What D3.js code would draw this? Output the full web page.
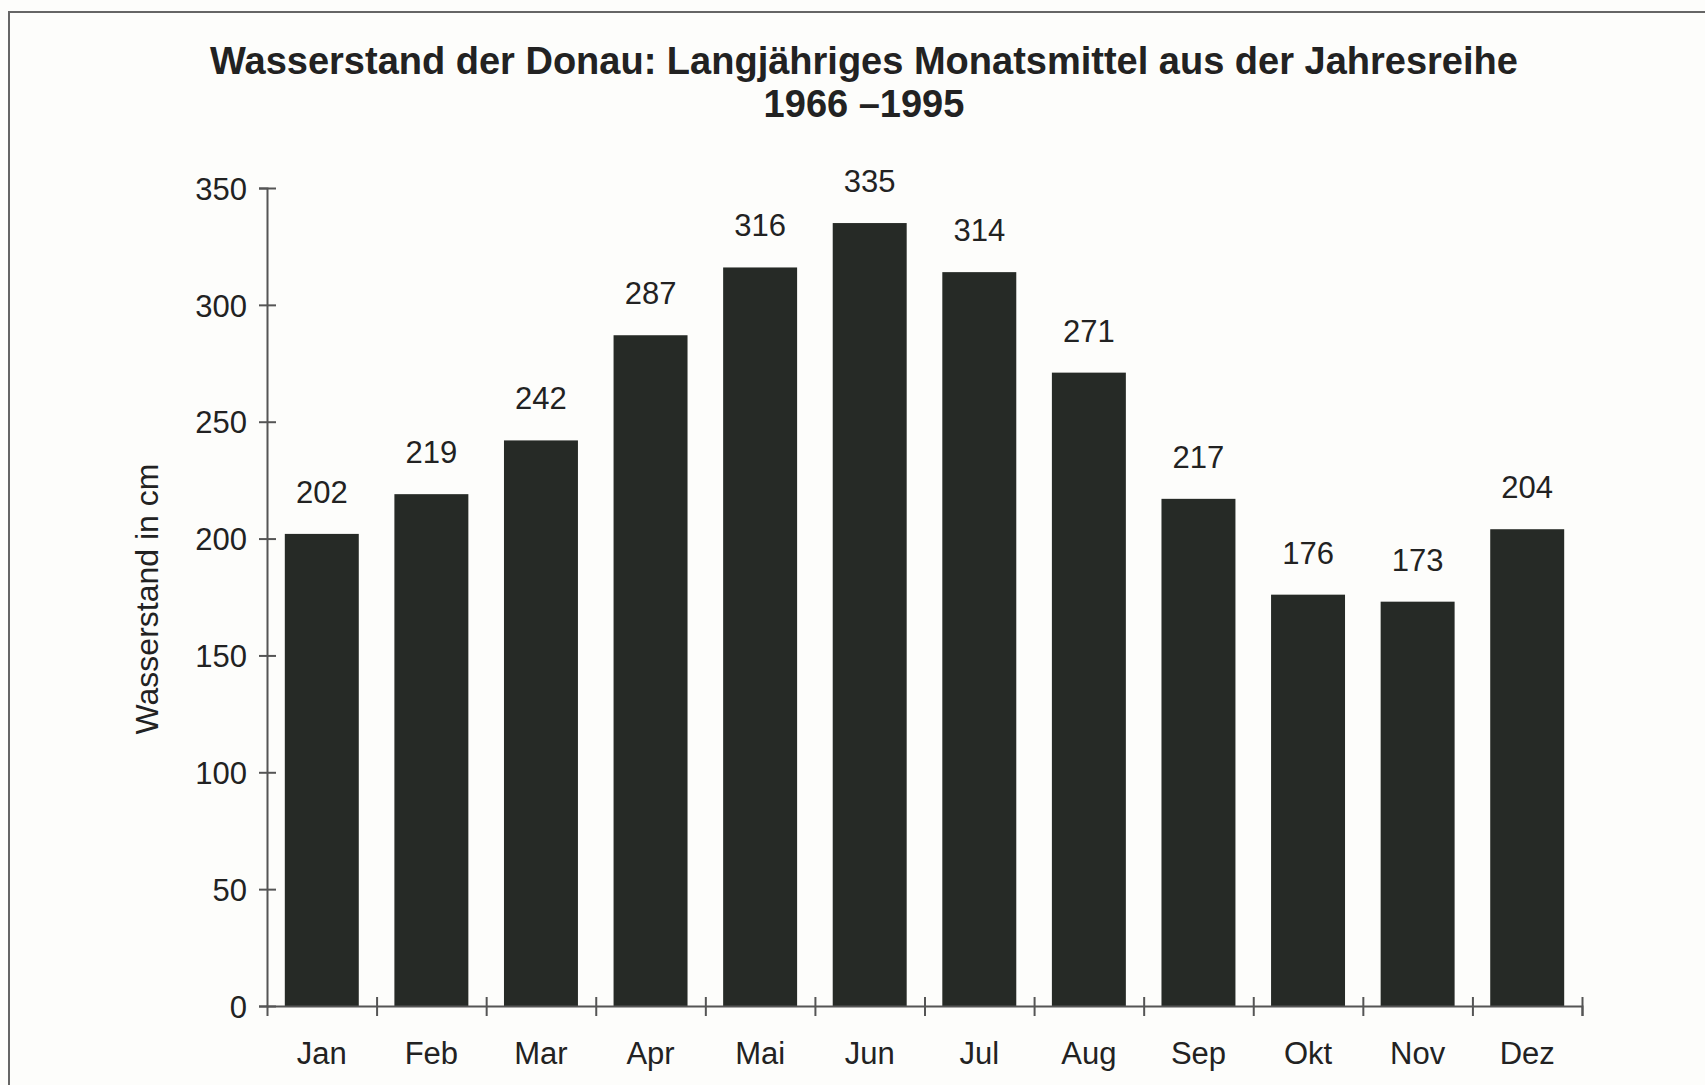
<!DOCTYPE html>
<html>
<head>
<meta charset="utf-8">
<script src="https://cdn.jsdelivr.net/npm/d3@7"></script>
<style>
  html, body { margin: 0; padding: 0; background: #fdfdfb; }
  svg { display: block; }
  text { font-family: "Liberation Sans", Arial, sans-serif; fill: #222; }
</style>
</head>
<body>
<div class="container"></div>
<script>
// data
const months = ['Jan', 'Feb', 'Mar', 'Apr', 'Mai', 'Jun', 'Jul', 'Aug', 'Sep', 'Okt', 'Nov', 'Dez']
const levels = [202, 219, 242, 287, 316, 335, 314, 271, 217, 176, 173, 204]
const yTicks = [0, 50, 100, 150, 200, 250, 300, 350]
const titleLines = ['Wasserstand der Donau: Langjähriges Monatsmittel aus der Jahresreihe', '1966 \u20131995']
const yLabel = 'Wasserstand in cm'

const SVG_WIDTH = 1705
const SVG_HEIGHT = 1085
const MARGIN = { LEFT: 267, RIGHT: 123, TOP: 188, BOTTOM: 79 }
const CHART_WIDTH = SVG_WIDTH - MARGIN.LEFT - MARGIN.RIGHT
const CHART_HEIGHT = SVG_HEIGHT - MARGIN.TOP - MARGIN.BOTTOM
const BAR_COLOR = '#262a26'
const AXIS_COLOR = '#555'
const LABEL_SIZE = '31px'

const svg = d3.select('.container')
  .append('svg')
  .attr('width', SVG_WIDTH)
  .attr('height', SVG_HEIGHT)

// frame round the figure (runs off right and bottom)
svg.append('rect')
  .attr('x', 9)
  .attr('y', 12)
  .attr('width', SVG_WIDTH + 20)
  .attr('height', SVG_HEIGHT + 20)
  .attr('fill', 'none')
  .attr('stroke', '#666')
  .attr('stroke-width', 2)

const chart = svg.append('g')
  .attr('transform', `translate(${MARGIN.LEFT}, ${MARGIN.TOP})`)

const scaleX = d3.scaleBand()
  .domain(months)
  .range([0, CHART_WIDTH])
  .paddingInner(0.325)
  .paddingOuter(0.1625)

// boundaries between months, for the x ticks
const scaleEdge = d3.scaleLinear()
  .domain([0, months.length])
  .range([0, CHART_WIDTH])

const scaleY = d3.scaleLinear()
  .domain([0, 350])
  .range([CHART_HEIGHT, 0])

// bars
chart.append('g')
  .selectAll('rect')
  .data(levels)
  .enter()
    .append('rect')
    .attr('x', (d, i) => scaleX(months[i]))
    .attr('y', d => scaleY(d))
    .attr('width', scaleX.bandwidth())
    .attr('height', d => CHART_HEIGHT - scaleY(d))
    .attr('fill', BAR_COLOR)

// value labels
chart.append('g')
  .selectAll('text')
  .data(levels)
  .enter()
    .append('text')
    .attr('x', (d, i) => scaleX(months[i]) + scaleX.bandwidth() / 2)
    .attr('y', d => scaleY(d) - 31)
    .attr('text-anchor', 'middle')
    .attr('font-size', LABEL_SIZE)
    .text(d => d)

// y axis
const yAxis = chart.append('g')
  .call(d3.axisLeft(scaleY).tickValues(yTicks).tickSize(8).tickPadding(12))
yAxis.select('.domain').attr('stroke', AXIS_COLOR).attr('stroke-width', 2)
yAxis.selectAll('.tick line').attr('x2', 9).attr('x1', -8).attr('stroke', AXIS_COLOR).attr('stroke-width', 2)
yAxis.selectAll('.tick text')
  .attr('font-size', LABEL_SIZE)
  .attr('font-family', '"Liberation Sans", Arial, sans-serif')
  .attr('fill', '#222')
  .attr('dy', '0.36em')
  .attr('x', -20)

// x axis: boundary ticks
const xEdges = chart.append('g')
  .attr('transform', `translate(0, ${CHART_HEIGHT})`)
  .call(d3.axisBottom(scaleEdge).tickValues(d3.range(1, months.length + 1)).tickSize(10).tickFormat(''))
xEdges.select('.domain').attr('stroke', AXIS_COLOR).attr('stroke-width', 2)
xEdges.selectAll('.tick line').attr('y1', -9).attr('stroke', AXIS_COLOR).attr('stroke-width', 2)

// x axis: month labels
const xLabels = chart.append('g')
  .attr('transform', `translate(0, ${CHART_HEIGHT})`)
  .call(d3.axisBottom(scaleX).tickSize(0).tickPadding(36))
xLabels.select('.domain').remove()
xLabels.selectAll('.tick text')
  .attr('font-size', LABEL_SIZE)
  .attr('font-family', '"Liberation Sans", Arial, sans-serif')
  .attr('fill', '#222')

// y axis title
svg.append('text')
  .attr('transform', `translate(147, 599) rotate(-90)`)
  .attr('text-anchor', 'middle')
  .attr('dy', '0.35em')
  .attr('font-size', '32px')
  .text(yLabel)

// title
svg.append('g')
  .selectAll('text')
  .data(titleLines)
  .enter()
    .append('text')
    .attr('x', 864)
    .attr('y', (d, i) => 74 + i * 43)
    .attr('text-anchor', 'middle')
    .attr('font-size', '38px')
    .attr('font-weight', 'bold')
    .text(d => d)
</script>
</body>
</html>
